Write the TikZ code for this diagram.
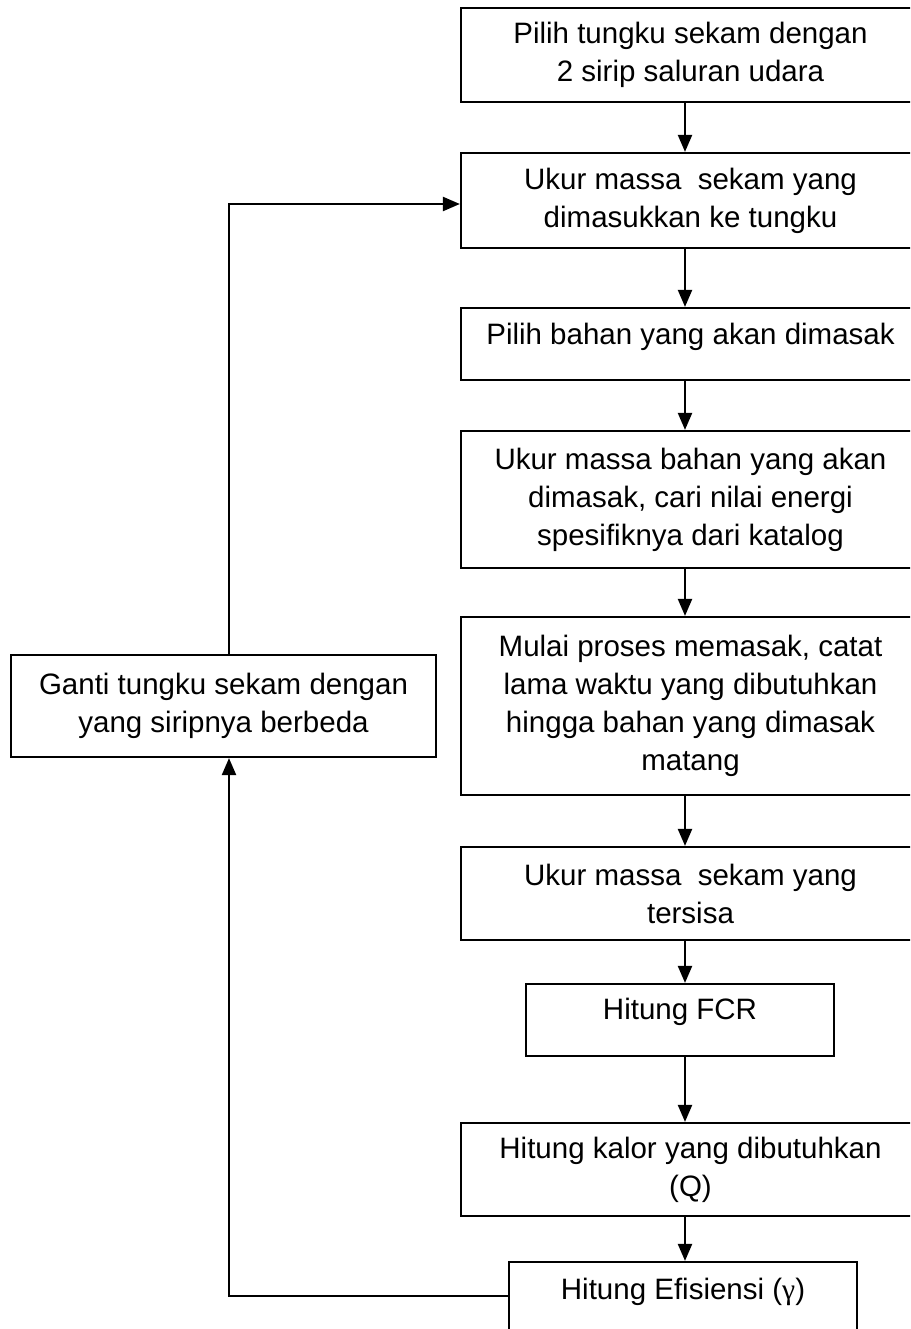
\documentclass[tikz,border=0pt]{standalone}
\usepackage{fontspec}
\setmainfont{Liberation Sans}
\newfontfamily\gfont{Liberation Serif}
\usetikzlibrary{arrows.meta}
\begin{document}
\begin{tikzpicture}[x=1pt,y=-1pt,
  box/.style={draw, line width=2.2pt, rectangle, inner sep=0pt, align=center,
    font=\fontsize{29.5}{38}\selectfont},
  txt/.style={inner sep=0pt, align=center, font=\fontsize{29.5}{38}\selectfont},
  arr/.style={line width=2.2pt, -{Triangle[length=17pt,width=14pt]}}]
\useasboundingbox (0,0) rectangle (910,1329);
\clip (0,0) rectangle (910,1329);
\fill[white] (0,0) rectangle (910,1329);
\coordinate (ax) at (685,0);
\coordinate (lx) at (229,0);
\node[box, minimum width=459pt, minimum height=94pt] (b1) at (690.5,55)
  {Pilih tungku sekam dengan\\2 sirip saluran udara};
\node[box, minimum width=459pt, minimum height=95pt] (b2) at (690.5,200.5)
  {Ukur massa~ sekam yang\\dimasukkan ke tungku};
\node[box, minimum width=459pt, minimum height=72pt] (b3) at (690.5,344) {};
\node[txt] (t3) at (690.5,337) {Pilih bahan yang akan dimasak};
\node[box, minimum width=459pt, minimum height=137pt] (b4) at (690.5,499.5)
  {Ukur massa bahan yang akan\\dimasak, cari nilai energi\\spesifiknya dari katalog};
\node[box, minimum width=459pt, minimum height=178pt] (b5) at (690.5,706)
  {Mulai proses memasak, catat\\lama waktu yang dibutuhkan\\hingga bahan yang dimasak\\matang};
\node[box, minimum width=459pt, minimum height=93pt] (b6) at (690.5,893.5)
  {Ukur massa~ sekam yang\\tersisa};
\node[box, minimum width=308pt, minimum height=72pt] (b7) at (680,1020) {};
\node[txt] (t7) at (680,1012) {Hitung FCR};
\node[box, minimum width=459pt, minimum height=93pt] (b8) at (690.5,1169.5)
  {Hitung kalor yang dibutuhkan\\(Q)};
\node[box, minimum width=348pt, minimum height=83pt] (b9) at (683,1303.5) {};
\node[txt] (t9) at (683,1292) {Hitung Efisiensi ({\gfont γ})};
\node[box, minimum width=425pt, minimum height=102pt] (bl) at (223.5,706)
  {Ganti tungku sekam dengan\\yang siripnya berbeda};
\draw[arr] (b1.south -| ax) -- (b2.north -| ax);
\draw[arr] (b2.south -| ax) -- (b3.north -| ax);
\draw[arr] (b3.south -| ax) -- (b4.north -| ax);
\draw[arr] (b4.south -| ax) -- (b5.north -| ax);
\draw[arr] (b5.south -| ax) -- (b6.north -| ax);
\draw[arr] (b6.south -| ax) -- (b7.north -| ax);
\draw[arr] (b7.south -| ax) -- (b8.north -| ax);
\draw[arr] (b8.south -| ax) -- (b9.north -| ax);
\coordinate (ly) at (0,1296);
\coordinate (ty) at (0,204);
\draw[arr] (b9.west |- ly) -- (lx |- ly) -- (bl.south -| lx);
\draw[arr] (bl.north -| lx) -- (lx |- ty) -- (b2.west |- ty);
\end{tikzpicture}
\end{document}
